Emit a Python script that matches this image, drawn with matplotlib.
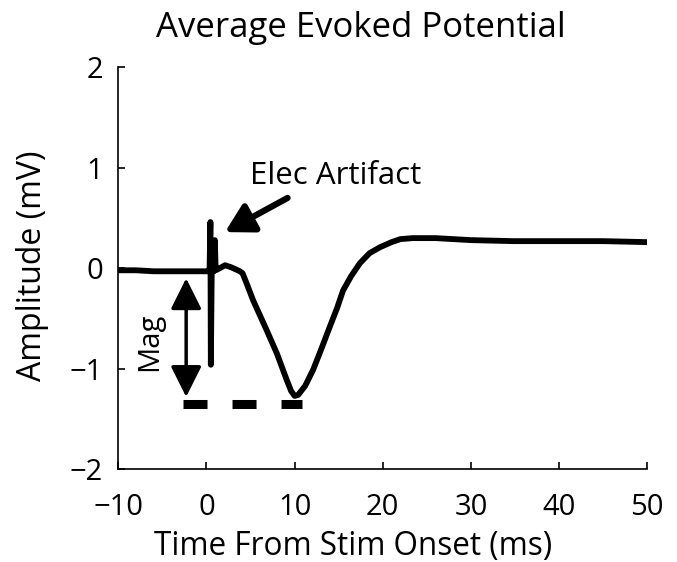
import matplotlib.pyplot as plt

# Trace (time in ms, amplitude in mV)
time_ms = [-10, -8, -6, -4, -2, -1, 0.0, 0.35, 0.45, 0.5, 0.6, 0.85, 0.95, 1.05,
           1.5, 2.1, 2.8, 3.8, 4.1, 4.6, 5.3, 6.8, 8.0, 9.1, 9.6, 10.0, 10.4,
           11.2, 12.1, 13.0, 14.0, 14.8, 15.5, 16.4, 17.4, 18.5, 19.7, 21.0,
           22.0, 23.4, 26, 30, 34.8, 40, 45, 50]
amp_mv = [-0.02, -0.02, -0.03, -0.03, -0.03, -0.03, -0.03, -0.03, 0.46, -0.96,
          -0.03, -0.03, 0.28, -0.02, 0.0, 0.03, 0.01, -0.03, -0.05, -0.16, -0.32,
          -0.61, -0.85, -1.11, -1.22, -1.27, -1.26, -1.17, -1.01, -0.81, -0.58,
          -0.40, -0.22, -0.08, 0.05, 0.15, 0.21, 0.26, 0.29, 0.30, 0.30, 0.28,
          0.27, 0.27, 0.27, 0.26]

# annotation marks
mag_x = -2.3
mag_top = -0.10
mag_bottom = -1.28
dash_x = [-2.67, 10.8]
dash_y = -1.35
artifact_tip = (2.1, 0.36)
artifact_tail = (9.2, 0.70)

plt.rcParams['font.family'] = ['Open Sans', 'DejaVu Sans']
plt.rcParams['font.size'] = 21

fig = plt.figure(figsize=(6.77, 5.62), dpi=100)
ax = fig.add_axes([0.1747, 0.165, 0.7814, 0.7153])

ax.plot(time_ms, amp_mv, color='black', lw=4.2, solid_joinstyle='round',
        solid_capstyle='round')

# dashed line at the trough
ax.plot(dash_x, [dash_y, dash_y], color='black', lw=6.5,
        linestyle=(0, (2.66, 2.77)), dash_capstyle='butt')

# double arrow for the magnitude
ax.annotate('', xy=(mag_x, mag_bottom), xytext=(mag_x, mag_top),
            arrowprops=dict(arrowstyle='<|-|>,head_width=0.45,head_length=0.9',
                            color='black', lw=2.5, shrinkA=0, shrinkB=0))
ax.text(-6.4, -0.73, 'Mag', rotation=90, ha='center', va='center')

# electrical artifact label
ax.annotate('', xy=artifact_tip, xytext=artifact_tail,
            arrowprops=dict(arrowstyle='-|>,head_width=0.45,head_length=0.8',
                            color='black', lw=4.5, shrinkA=0, shrinkB=0))
ax.text(4.9, 0.92, 'Elec Artifact', ha='left', va='center', fontsize=22.5)

ax.set_xlim(-10, 50)
ax.set_ylim(-2, 2)
ax.set_xticks([-10, 0, 10, 20, 30, 40, 50])
ax.set_yticks([-2, -1, 0, 1, 2])
ax.tick_params(direction='in', length=5, width=1.2)
ax.tick_params(axis='x', pad=17)
ax.tick_params(axis='y', pad=11)
ax.spines['top'].set_visible(False)
ax.spines['right'].set_visible(False)
ax.spines['left'].set_linewidth(1.2)
ax.spines['bottom'].set_linewidth(1.2)

fig.text(361 / 677, 1 - 37 / 562, 'Average Evoked Potential',
         ha='center', va='baseline', fontsize=25)
fig.text(353 / 677, 7 / 562, 'Time From Stim Onset (ms)', ha='center',
         va='baseline', fontsize=22.7)
fig.text(33 / 677, 1 - 266 / 562, 'Amplitude (mV)', rotation=90,
         ha='center', va='center', fontsize=23)

fig.savefig('out.png', dpi=100)
